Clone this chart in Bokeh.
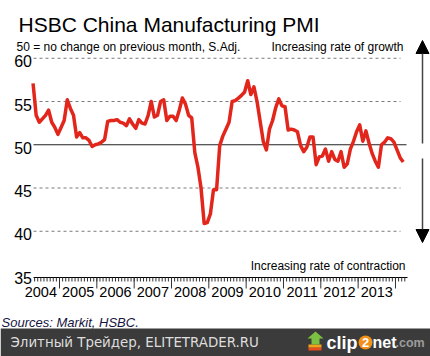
from bokeh.plotting import figure
from bokeh.models import Arrow, NormalHead, Label, ColumnDataSource, Range1d
from bokeh.embed import file_html
from bokeh.resources import INLINE
from bokeh.core.properties import value

# ---------------- data (HSBC China Manufacturing PMI, monthly, Apr-2004 .. Mar-2014)
pmi_2004 = [57.1, 53.4, 52.6, 53.0, 53.4, 54.0, 52.6, 52.0, 51.2]            # Apr-Dec
pmi_2005 = [52.0, 52.8, 55.2, 54.2, 53.4, 50.9, 51.4, 50.8, 50.8, 50.5, 49.8, 50.0]
pmi_2006 = [50.1, 50.3, 50.6, 52.7, 52.8, 52.8, 52.9, 52.6, 52.5, 52.2, 53.0, 52.4]
pmi_2007 = [51.9, 52.9, 52.5, 52.4, 53.4, 55.0, 53.2, 53.4, 55.0, 55.2, 52.8, 53.3]
pmi_2008 = [53.3, 52.8, 54.0, 55.4, 54.7, 53.4, 53.1, 49.1, 47.4, 45.0, 40.9, 41.0]
pmi_2009 = [42.0, 44.8, 44.8, 49.9, 51.0, 51.8, 52.6, 55.0, 55.1, 55.4, 55.7, 56.1]
pmi_2010 = [57.4, 55.8, 56.7, 55.0, 52.7, 50.4, 49.4, 51.8, 52.8, 54.3, 55.3, 54.5]
pmi_2011 = [54.4, 51.7, 51.8, 51.7, 51.5, 49.9, 49.2, 49.7, 50.9, 50.9, 47.7, 48.6]
pmi_2012 = [48.7, 49.5, 48.1, 49.2, 48.3, 48.1, 49.2, 47.4, 47.8, 49.5, 50.4, 51.5]
pmi_2013 = [52.3, 50.4, 51.6, 50.2, 49.0, 48.1, 47.4, 50.0, 50.3, 50.8, 50.7, 50.3]
pmi_2014 = [49.4, 48.5, 48.0]                                                  # Jan-Mar

years = [2004, 2005, 2006, 2007, 2008, 2009, 2010, 2011, 2012, 2013]
year_labels = ["2004", "2005", "2006", "2007", "2008", "2009", "2010", "2011", "2012", "2013"]
y_ticks = [35, 40, 45, 50, 55, 60]
y_tick_labels = ["35", "40", "45", "50", "55", "60"]
grid_levels = [40, 45, 55, 60]
neutral_level = 50

pmi = (pmi_2004 + pmi_2005 + pmi_2006 + pmi_2007 + pmi_2008 + pmi_2009 +
       pmi_2010 + pmi_2011 + pmi_2012 + pmi_2013 + pmi_2014)
first_month = 3  # April (0-based), 2004
x_vals = [2004 + (first_month + k + 0.5) / 12 for k in range(len(pmi))]

# ---------------- canvas / scales (frame = whole canvas)
W, H = 430, 356
PX_PER_YEAR = 37.33
PX_PER_UNIT = 8.65
X0 = 2005 - 59 / PX_PER_YEAR
X1 = X0 + W / PX_PER_YEAR
YT = 35 + 274 / PX_PER_UNIT
YB = YT - H / PX_PER_UNIT

def sx(px):
    return X0 + px / PX_PER_YEAR

def sy(py):
    return YT - py / PX_PER_UNIT

FONT = "Liberation Sans"

p = figure(width=W, height=H, output_backend="svg", toolbar_location=None,
           x_range=Range1d(X0, X1), y_range=Range1d(YB, YT),
           x_axis_location=None, y_axis_location=None, min_border=0)
p.outline_line_color = None
p.background_fill_color = "white"
p.border_fill_color = "white"
p.grid.visible = False

x_left, x_right = sx(33), sx(407)
axis_y = sy(277)

# grid lines
p.segment(x0=[x_left] * len(grid_levels), x1=[sx(400)] * len(grid_levels),
          y0=grid_levels, y1=grid_levels, line_color="#7a7a7a", line_dash="3 3", line_width=1)
p.segment(x0=[x_left], x1=[sx(406)], y0=[neutral_level], y1=[neutral_level],
          line_color="#222222", line_width=1)

# y tick labels
p.text(x=[sx(31.5)] * len(y_ticks), y=y_ticks, text=y_tick_labels, text_align="right",
       text_baseline="middle", y_offset=3, text_font=value(FONT), text_font_size="16px",
       text_color="black")

# x axis: line, monthly minor ticks, yearly major ticks, year labels
p.segment(x0=[x_left], x1=[x_right], y0=[axis_y], y1=[axis_y], line_color="black", line_width=1)
month_bounds = [2004 + (first_month + k) / 12 for k in range(1, len(pmi) + 1)]
minor_len = 4 / PX_PER_UNIT
p.segment(x0=month_bounds, x1=month_bounds, y0=[axis_y] * len(month_bounds),
          y1=[axis_y - minor_len] * len(month_bounds), line_color="#333333", line_width=1)
year_bounds = [y + 1 for y in years]
major_len = 11 / PX_PER_UNIT
p.segment(x0=year_bounds, x1=year_bounds, y0=[axis_y] * len(year_bounds),
          y1=[axis_y - major_len] * len(year_bounds), line_color="#333333", line_width=1)
p.text(x=[y + 0.5 for y in years], y=[axis_y] * len(years), text=year_labels,
       text_align="center", text_baseline="top", y_offset=9,
       text_font=value(FONT), text_font_size="14.5px", text_color="black")

# data line
src = ColumnDataSource(dict(x=x_vals, y=pmi))
p.line("x", "y", source=src, line_color="#e2261c", line_width=3.5, line_join="round")

# right-hand arrows
xa = sx(422)
p.add_layout(Arrow(end=NormalHead(size=13, fill_color="black", line_color="black"),
                   x_start=xa, y_start=sy(143), x_end=xa, y_end=sy(40),
                   line_color="#444444", line_width=1.5))
p.add_layout(Arrow(end=NormalHead(size=13, fill_color="black", line_color="black"),
                   x_start=xa, y_start=sy(158), x_end=xa, y_end=sy(242),
                   line_color="#444444", line_width=1.5))

# texts
def add_label(text, px, py, size, align="left", style="normal", color="black", font=FONT):
    p.add_layout(Label(x=sx(px), y=sy(py), text=text, text_font=font, text_font_size=size,
                       text_align=align, text_baseline="alphabetic", text_color=color,
                       text_font_style=style))

add_label("HSBC China Manufacturing PMI", 18, 24, "21px")
add_label("50 = no change on previous month, S.Adj.", 16, 46, "12px")
add_label("Increasing rate of growth", 403, 46, "12px", align="right")
add_label("Increasing rate of contraction", 405, 265, "12px", align="right")
add_label("Sources: Markit, HSBC.", 1, 321.5, "13px", style="italic", color="#151540")

# ---------------- footer band
p.quad(left=[sx(0)], right=[sx(W)], bottom=[sy(H)], top=[sy(328)],
       fill_color="#3b3b3b", line_color=None)
p.text(x=[sx(10)], y=[sy(342)], text=["Элитный Трейдер, ELITETRADER.RU"],
       text_font=value("DejaVu Sans"), text_font_size="13.4px",
       text_color="#dedede", text_baseline="middle")
# clip2net logo
p.quad(left=[sx(308)], right=[sx(321)], bottom=[sy(350)], top=[sy(347)],
       fill_color="#e84c1c", line_color=None)
p.quad(left=[sx(308)], right=[sx(321)], bottom=[sy(347)], top=[sy(344)],
       fill_color="#f5a21b", line_color=None)
p.patch(x=[sx(311), sx(311), sx(307), sx(315), sx(323), sx(319), sx(319)],
        y=[sy(344), sy(338), sy(338), sy(331), sy(338), sy(338), sy(344)],
        fill_color="#7cc242", line_color=None)
p.text(x=[sx(326)], y=[sy(342)], text=["clip"], text_font=value(FONT), text_font_style="bold",
       text_font_size="18px", text_color="white", text_baseline="middle")
p.scatter(x=[sx(365)], y=[sy(342)], size=14, fill_color="#f39019", line_color=None)
p.text(x=[sx(365)], y=[sy(342)], text=["2"], text_font=value(FONT), text_font_style="bold",
       text_font_size="13px", text_color="white", text_baseline="middle", text_align="center")
p.text(x=[sx(372)], y=[sy(342)], text=["net"], text_font=value(FONT), text_font_style="bold",
       text_font_size="16px", text_color="white", text_baseline="middle")
p.text(x=[sx(395)], y=[sy(342)], text=[".com"], text_font=value(FONT), text_font_style="bold",
       text_font_size="12.5px", text_color="#9c9c9c", text_baseline="middle")

open("out.html", "w").write(file_html(p, INLINE))
